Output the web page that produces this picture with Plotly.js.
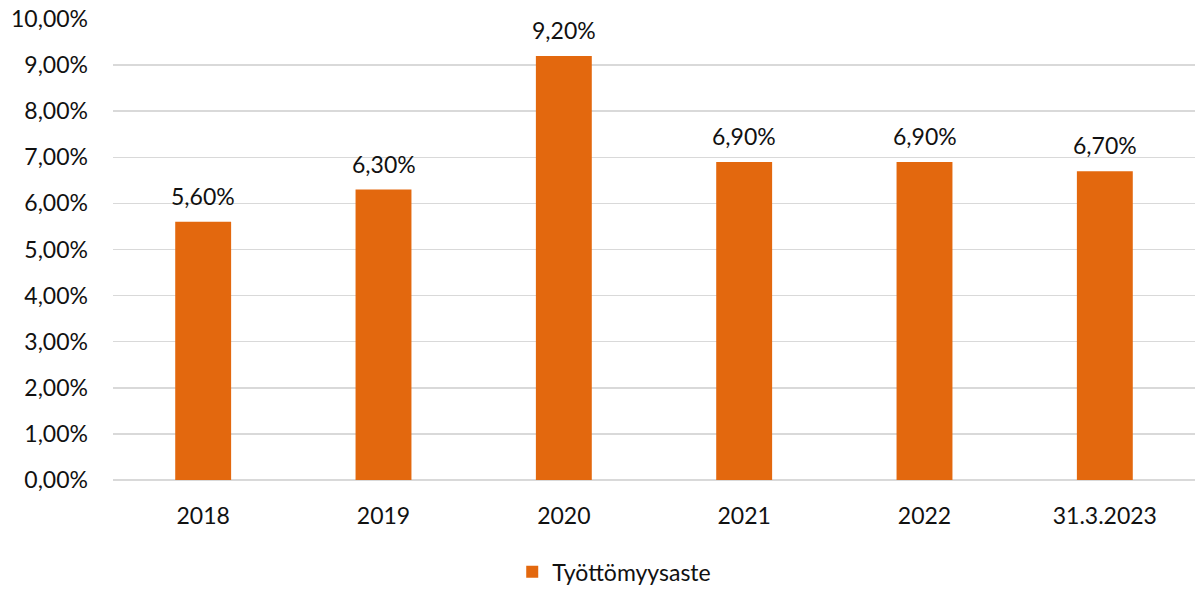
<!DOCTYPE html>
<html><head><meta charset="utf-8">
<script src="https://cdn.plot.ly/plotly-3.0.1.min.js"></script>
<style>html,body{margin:0;padding:0;background:#fff}</style>
</head><body><div id="chart" style="width:1195px;height:589px"></div>
<script>
const categories = ["2018","2019","2020","2021","2022","31.3.2023"];
const values = [0.056, 0.063, 0.092, 0.069, 0.069, 0.067];
const seriesName = "Työttömyysaste";
const labels = ["5,60%","6,30%","9,20%","6,90%","6,90%","6,70%"];

const font = "Lato, 'Open Sans', sans-serif";
const trace = {
  type: "bar", x: categories, y: values, name: seriesName,
  marker: {color: "#E3680E"}, hoverinfo: "none"
};
const annotations = categories.map((c, i) => ({
  x: i, y: values[i], xref: "x", yref: "y", text: labels[i],
  showarrow: false, yanchor: "bottom", yshift: 10,
  font: {family: font, size: 23, color: "#111"}
}));
const layout = {
  width: 1195, height: 589,
  margin: {l: 113, r: 0, t: 19, b: 109},
  separators: ",.",
  font: {family: font, size: 23, color: "#111"},
  bargap: 0.69,
  showlegend: true,
  legend: {orientation: "h", xref: "container", yref: "container", x: 0.514, y: 0.029,
           xanchor: "center", yanchor: "middle", font: {size: 23}},
  xaxis: {type: "category", range: [-0.5, 5.5], autorange: false, showgrid: false, showline: false, ticks: "", ticklabelstandoff: 20},
  yaxis: {range: [0, 0.1], autorange: false, dtick: 0.01, tickformat: ".2%", gridcolor: "#d9d9d9", gridwidth: 1.5,
          zeroline: true, zerolinecolor: "#d9d9d9", zerolinewidth: 1.5, ticklabelstandoff: 24},
  annotations: annotations,
  plot_bgcolor: "#fff", paper_bgcolor: "#fff"
};
Plotly.newPlot("chart", [trace], layout, {displayModeBar: false, staticPlot: true});
</script></body></html>
